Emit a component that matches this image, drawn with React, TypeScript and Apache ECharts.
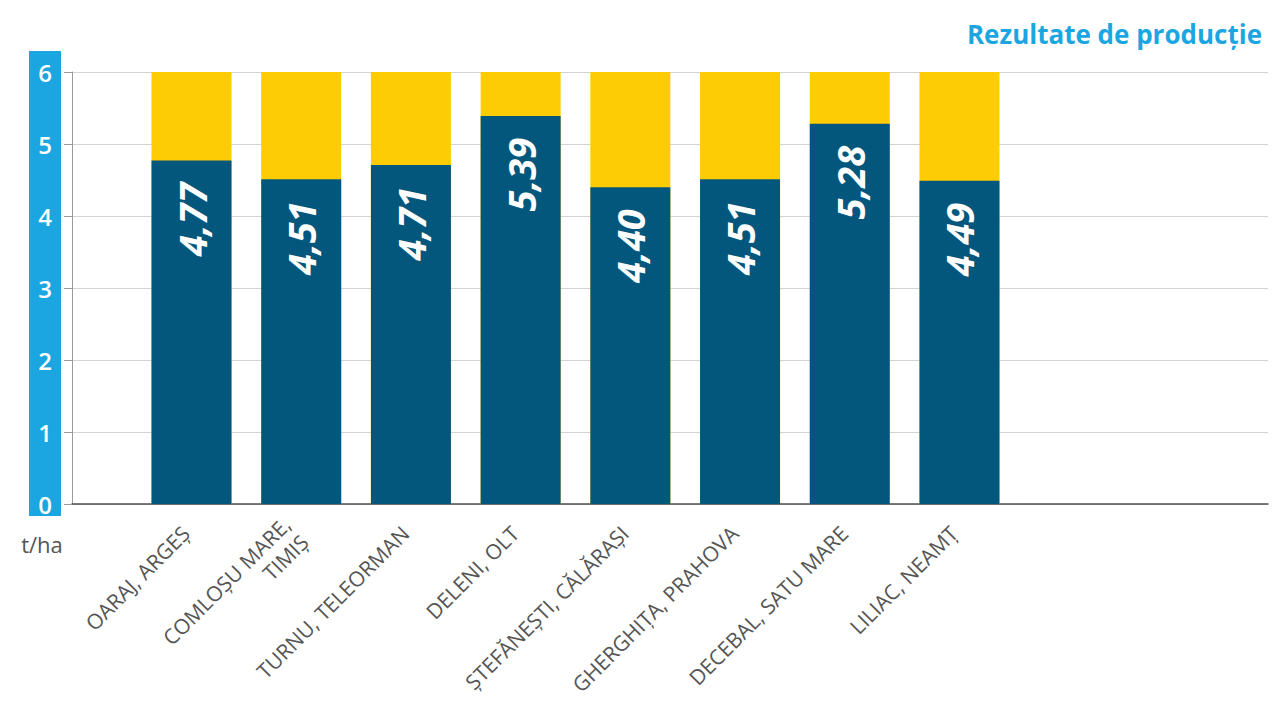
import React, { useEffect, useRef } from "react";
import * as echarts from "echarts";

// Locations (farm, county)
const locations = [
  "OARAJ, ARGEȘ",
  "COMLOȘU MARE,\nTIMIȘ",
  "TURNU, TELEORMAN",
  "DELENI, OLT",
  "ȘTEFĂNEȘTI, CĂLĂRAȘI",
  "GHERGHIȚA, PRAHOVA",
  "DECEBAL, SATU MARE",
  "LILIAC, NEAMȚ",
];

// Yield obtained (t/ha)
const yields = [4.77, 4.51, 4.71, 5.39, 4.4, 4.51, 5.28, 4.49];

// Reference level drawn behind each bar (t/ha)
const reference = [6, 6, 6, 6, 6, 6, 6, 6];

const yTicks = [0, 1, 2, 3, 4, 5, 6];

const TITLE = "Rezultate de producție";
const UNIT = "t/ha";

const BLUE = "#03577d";
const YELLOW = "#fecc04";
const ACCENT = "#1ba6e1";

export default function App() {
  const ref = useRef<HTMLDivElement>(null);

  useEffect(() => {
    if (!ref.current) return;
    const chart = echarts.init(ref.current, undefined, { renderer: "svg" });

    const slot = 109.71;
    const barsLeft = 191.5 - slot / 2;

    chart.setOption({
      animation: false,
      backgroundColor: "#ffffff",
      textStyle: { fontFamily: "'Open Sans', 'Noto Sans', sans-serif" },
      grid: [
        { left: 72, right: 12, top: 72, bottom: 216 },
        { left: barsLeft, width: slot * locations.length, top: 72, bottom: 216 },
      ],
      xAxis: [
        {
          gridIndex: 0,
          type: "category",
          data: [""],
          axisLine: { show: true, lineStyle: { color: "#505050", width: 1.5 } },
          axisTick: { show: false },
          axisLabel: { show: false },
          splitLine: { show: false },
        },
        {
          gridIndex: 1,
          type: "category",
          data: locations,
          axisLine: { show: false },
          axisTick: { show: false },
          axisLabel: {
            rotate: 45,
            margin: 20,
            padding: [0, 8, 0, 0],
            interval: 0,
            color: "#555555",
            fontSize: 21,
            lineHeight: 25,
            fontFamily: "'Open Sans', sans-serif",
          },
        },
      ],
      yAxis: [
        {
          gridIndex: 0,
          type: "value",
          min: yTicks[0],
          max: yTicks[yTicks.length - 1],
          interval: 1,
          axisLine: { show: true, lineStyle: { color: "#9a9a9a", width: 1 } },
          axisTick: { show: true, length: 8, lineStyle: { color: "#9a9a9a" } },
          axisLabel: {
            color: "#ffffff",
            fontSize: 24,
            fontWeight: 600,
            align: "center",
            margin: 27,
            padding: [6, 0, 0, 0],
            fontFamily: "'Open Sans', sans-serif",
          },
          splitLine: { show: true, lineStyle: { color: "#d0d4d6", width: 1 } },
        },
        {
          gridIndex: 1,
          type: "value",
          min: yTicks[0],
          max: yTicks[yTicks.length - 1],
          show: false,
          splitLine: { show: false },
        },
      ],
      graphic: [
        {
          type: "rect",
          z: -10,
          shape: { x: 29, y: 51, width: 32, height: 465 },
          style: { fill: ACCENT },
        },
        {
          type: "text",
          x: 1262,
          y: 34,
          style: {
            text: TITLE,
            fill: ACCENT,
            font: "bold 26px 'Open Sans', sans-serif",
            textAlign: "right",
            textVerticalAlign: "middle",
          },
        },
        {
          type: "text",
          x: 42,
          y: 544,
          style: {
            text: UNIT,
            fill: "#555555",
            font: "22px 'Open Sans', sans-serif",
            textAlign: "center",
            textVerticalAlign: "middle",
          },
        },
      ],
      series: [
        {
          type: "bar",
          xAxisIndex: 1,
          yAxisIndex: 1,
          data: reference,
          barWidth: 80,
          barGap: "-100%",
          itemStyle: { color: YELLOW },
          silent: true,
        },
        {
          type: "bar",
          xAxisIndex: 1,
          yAxisIndex: 1,
          data: yields,
          barWidth: 80,
          barGap: "-100%",
          itemStyle: { color: BLUE },
          label: {
            show: true,
            position: ["50%", 22],
            rotate: 90,
            align: "right",
            verticalAlign: "middle",
            color: "#ffffff",
            fontSize: 38,
            fontWeight: "bold",
            fontStyle: "italic",
            fontFamily: "'Open Sans', sans-serif",
            formatter: (p: any) => p.value.toFixed(2).replace(".", ","),
          },
        },
      ],
    });

    return () => chart.dispose();
  }, []);

  return (
    <div
      ref={ref}
      style={{ position: "fixed", left: 0, top: 0, width: 1280, height: 720 }}
    />
  );
}
